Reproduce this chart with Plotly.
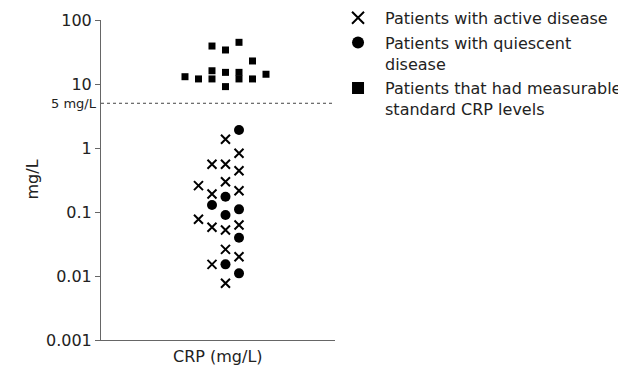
import math
import plotly.graph_objects as go

# Column offsets (jitter columns) and CRP values (mg/L)
active_x = [0, 1, -1, 0, 1, -2, 0, -1, 1, -2, -1, 0, 1, 0, -1, 1, 0]
active_y = [1.37, 0.83, 0.556, 0.556, 0.44, 0.258, 0.297, 0.191, 0.215,
            0.0769, 0.0577, 0.0523, 0.0627, 0.0261, 0.0152, 0.0200, 0.00769]

quiescent_x = [1, 0, -1, 0, 1, 1, 0, 1]
quiescent_y = [1.91, 0.173, 0.129, 0.0898, 0.110, 0.0397, 0.0152, 0.0110]

standard_x = [-3, -2, -1, -1, -1, 0, 0, 0, 1, 1, 1, 2, 2, 3]
standard_y = [13.0, 12.0, 39.2, 16.1, 12.0, 34.0, 15.2, 9.1, 44.8, 15.2, 12.0, 22.9, 12.0, 14.2]

tick_vals = [0.001, 0.01, 0.1, 1, 10, 100]
tick_text = ["0.001", "0.01", "0.1", "1", "10", "100"]
threshold = 5
threshold_label = "5 mg/L"

FONT = "Tahoma, 'DejaVu Sans', sans-serif"
TXT = "#222"

fig = go.Figure()
fig.add_trace(go.Scatter(
    x=active_x, y=active_y, mode="markers", name="Patients with active disease",
    marker=dict(symbol="x-thin", size=9, color="black", line=dict(width=2, color="black")),
    legendgroup="a"))
fig.add_trace(go.Scatter(
    x=quiescent_x, y=quiescent_y, mode="markers", name="Patients with quiescent<br>disease",
    marker=dict(symbol="circle", size=10, color="black"), legendgroup="b"))
fig.add_trace(go.Scatter(
    x=standard_x, y=standard_y, mode="markers",
    name="Patients that had measurable<br>standard CRP levels",
    marker=dict(symbol="square", size=7, color="black"), legendgroup="c"))

fig.add_shape(type="line", xref="paper", x0=0, x1=1, yref="y", y0=threshold, y1=threshold,
              line=dict(color="#444", width=1, dash="dot"))

fig.add_annotation(xref="paper", x=0, xanchor="right", xshift=-2, yref="y", y=math.log10(threshold),
                   text=threshold_label, showarrow=False, font=dict(size=13, family=FONT, color=TXT))
fig.add_annotation(xref="paper", x=0.5, yref="paper", y=0, yshift=-16, yanchor="middle",
                   text="CRP (mg/L)", showarrow=False, font=dict(size=16, family=FONT, color=TXT))
fig.add_annotation(xref="paper", x=0, xshift=-81, yref="paper", y=0.5, textangle=-90,
                   text="mg/L", showarrow=False, font=dict(size=16, family=FONT, color=TXT))

fig.update_layout(
    width=618, height=359,
    margin=dict(l=93, r=291, t=12, b=27, autoexpand=False),
    plot_bgcolor="white", paper_bgcolor="white",
    font=dict(family=FONT, size=16, color=TXT),
    showlegend=True,
    legend=dict(x=0.983, xanchor="left", y=1.06, yanchor="top", yref="paper",
                font=dict(size=16, family=FONT, color=TXT),
                tracegroupgap=1, valign="top", bgcolor="rgba(0,0,0,0)",
                itemsizing="constant", itemwidth=44),
    xaxis=dict(range=[-9.22, 8.11], showgrid=False, zeroline=False, showticklabels=False,
               ticks="", showline=True, linecolor="#666", linewidth=1),
    yaxis=dict(type="log", range=[-3, 2], showgrid=False, zeroline=False,
               tickvals=tick_vals, ticktext=tick_text, ticks="outside", ticklen=5,
               tickcolor="#666", showline=True, linecolor="#666", linewidth=1,
               tickfont=dict(size=16, family=FONT, color=TXT)),
)

fig.write_html("out.html")
